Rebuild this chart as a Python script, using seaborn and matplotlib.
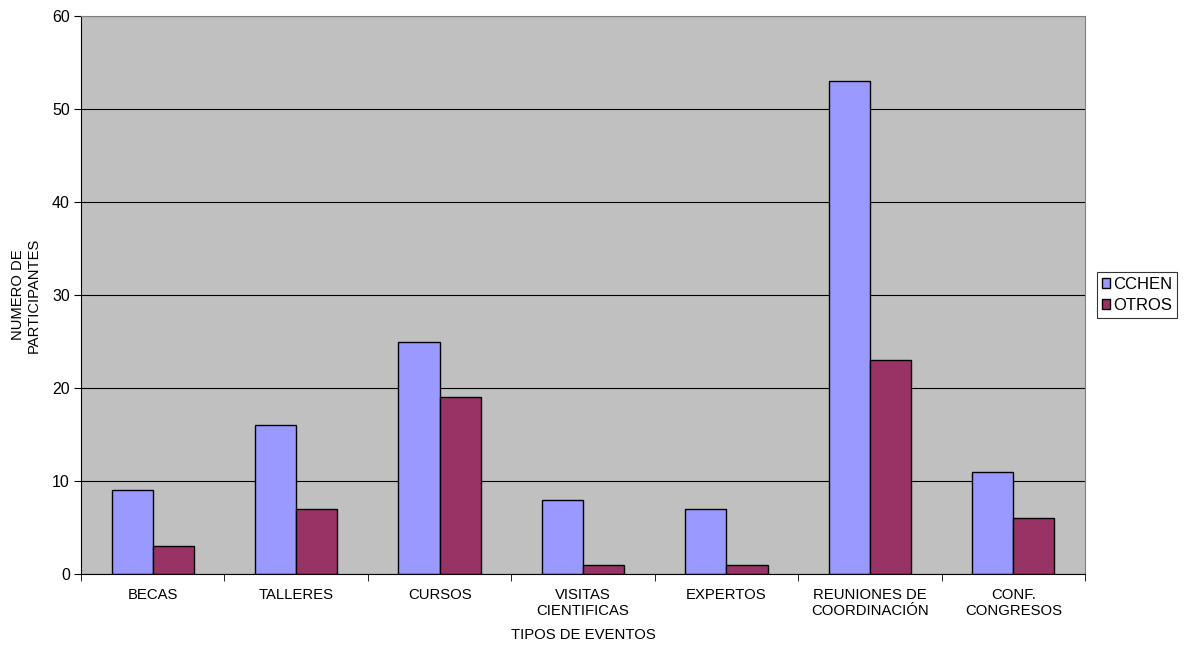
import matplotlib
matplotlib.use("Agg")
import matplotlib.pyplot as plt
import seaborn as sns
import pandas as pd
import numpy as np
from matplotlib.patches import Patch

categories = ["BECAS", "TALLERES", "CURSOS", "VISITAS\nCIENTIFICAS", "EXPERTOS",
              "REUNIONES DE\nCOORDINACIÓN", "CONF.\nCONGRESOS"]
cchen = [9, 16, 25, 8, 7, 53, 11]
otros = [3, 7, 19, 1, 1, 23, 6]
series = ["CCHEN", "OTROS"]
colors = ["#9999FF", "#993366"]

df = pd.DataFrame({
    "cat": categories * 2,
    "val": cchen + otros,
    "serie": ["CCHEN"] * len(categories) + ["OTROS"] * len(categories),
})

sns.set_style("white")
plt.rcParams['font.family'] = ['Liberation Sans', 'DejaVu Sans']
plt.rcParams['text.color'] = 'black'
plt.rcParams['axes.labelcolor'] = 'black'
plt.rcParams['xtick.color'] = 'black'
plt.rcParams['ytick.color'] = 'black'

fig = plt.figure(figsize=(11.94, 6.49), dpi=100)
ax = fig.add_axes([81/1194, 1-574/649, 1004/1194, 558/649])
sns.barplot(data=df, x="cat", y="val", hue="serie", palette=colors, order=categories,
            hue_order=series, width=0.574, edgecolor="black", linewidth=1, ax=ax,
            saturation=1, legend=False)
ax.set_facecolor("#C0C0C0")
ax.set_xlim(-0.5, len(categories) - 0.5)
ax.set_ylim(0, 60)
ax.set_yticks(np.arange(0, 61, 10))
ax.yaxis.grid(True, color="black", linewidth=0.8)
ax.set_axisbelow(True)
for s in ["top", "right"]:
    ax.spines[s].set_color("#808080")
ax.spines["left"].set_color("black")
ax.spines["bottom"].set_color("black")
ax.tick_params(axis="y", which="major", length=5, direction="out", left=True,
               labelsize=11.5, pad=3)
ax.tick_params(axis="x", which="major", length=0, labelsize=10.7, pad=10)
ax.set_xticks(np.arange(-0.5, len(categories), 1.0), minor=True)
ax.tick_params(axis="x", which="minor", length=5, direction="out", bottom=True)
ax.set_xlabel("TIPOS DE EVENTOS", fontsize=10.7, labelpad=7)
ax.set_ylabel("NUMERO DE\nPARTICIPANTES", fontsize=10.6, labelpad=8)

handles = [Patch(facecolor=c, edgecolor="black", label=s) for c, s in zip(colors, series)]
leg = fig.legend(handles=handles, loc="center left", bbox_to_anchor=(1097/1194, 1-295/649),
                 frameon=True, fancybox=False, edgecolor="black", fontsize=12,
                 handlelength=0.5, handleheight=0.5, handletextpad=0.15, borderpad=0.3,
                 labelspacing=0.35, borderaxespad=0)
leg.get_frame().set_linewidth(0.8)

fig.savefig("out.png", dpi=100)
